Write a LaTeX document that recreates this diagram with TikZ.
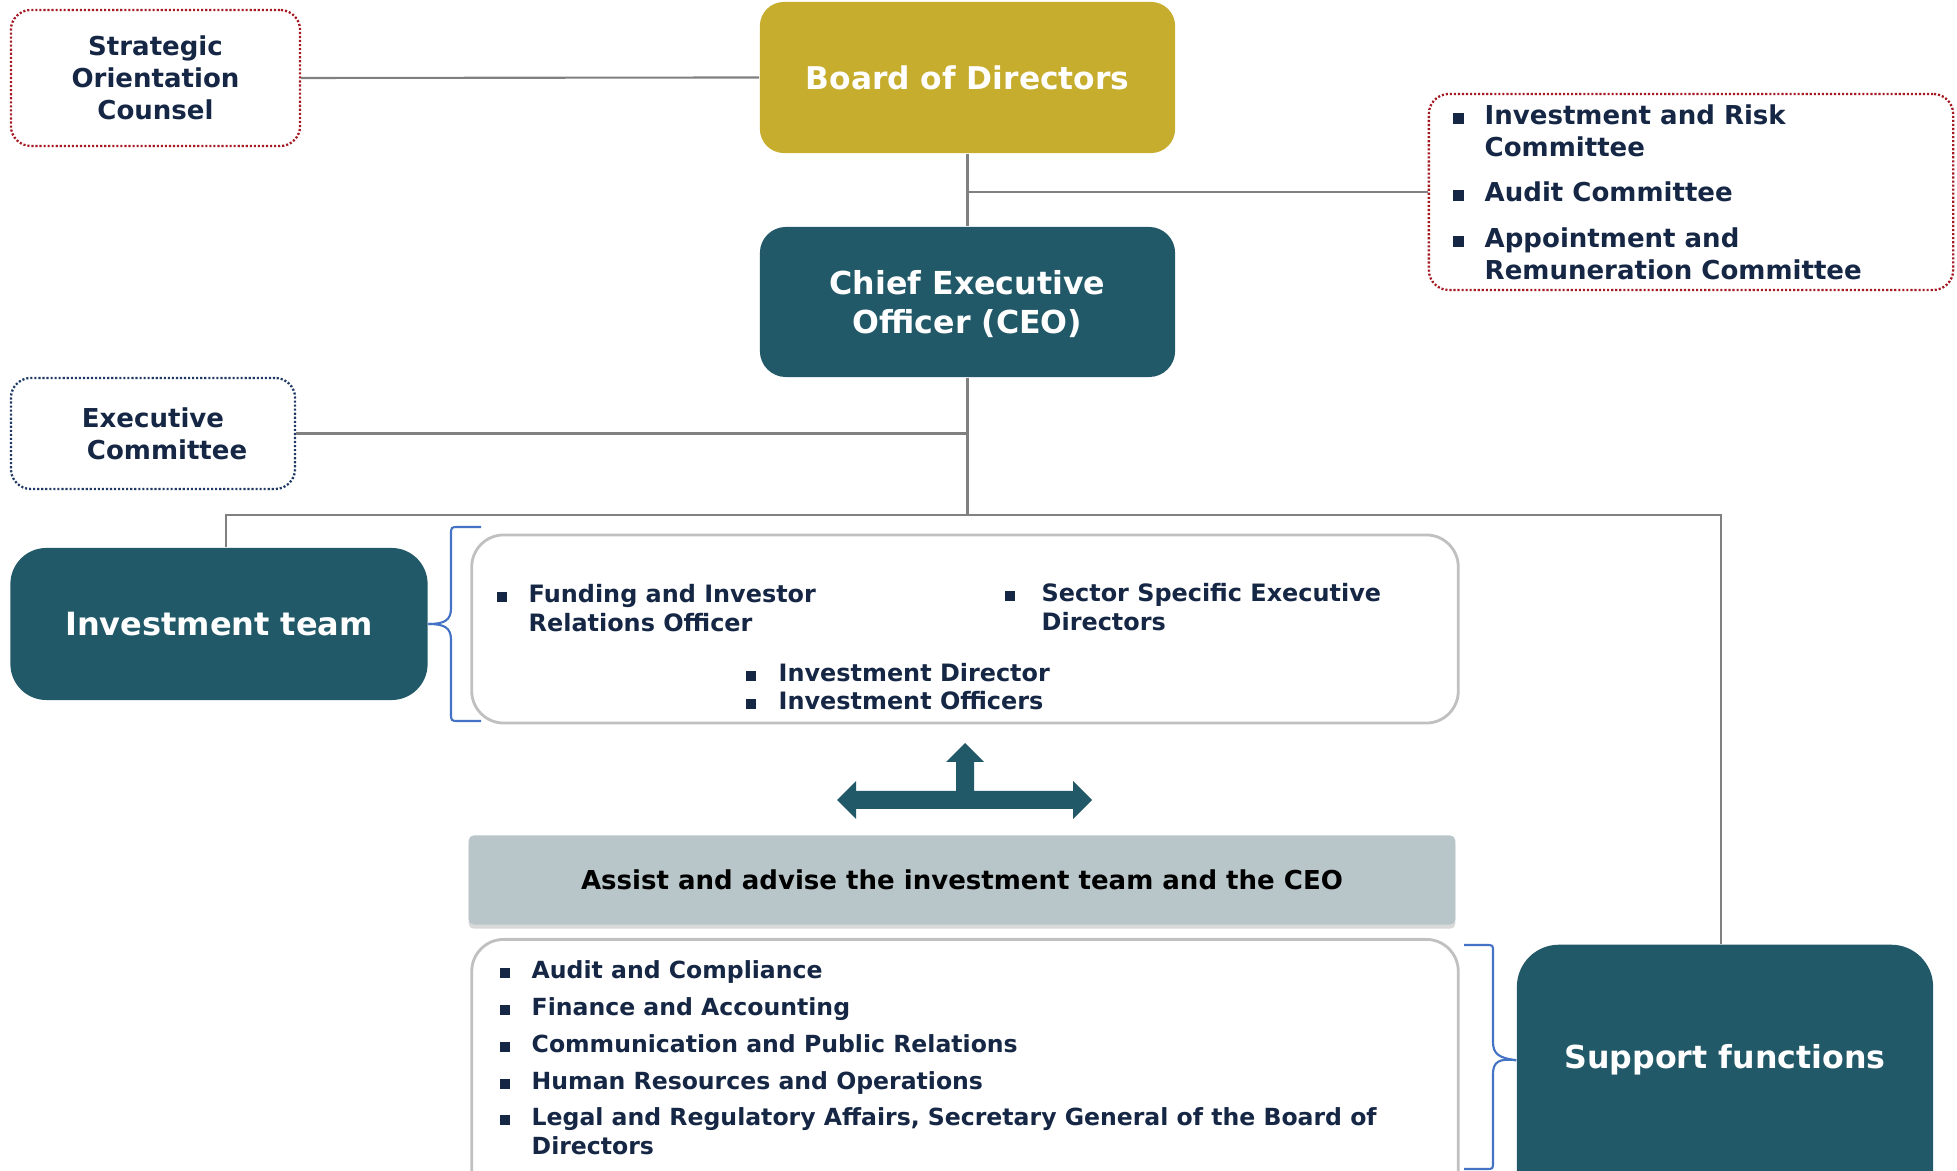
\documentclass[tikz,border=0pt]{standalone}
\usepackage{fontspec}
\setmainfont{DejaVu Sans}
\usetikzlibrary{calc,shadows}
\definecolor{darkteal}{RGB}{34,89,104}
\definecolor{boardgold}{RGB}{198,173,46}
\definecolor{navy}{RGB}{21,39,68}
\definecolor{dotred}{RGB}{165,25,35}
\definecolor{dotblue}{RGB}{31,56,100}
\definecolor{bannergray}{RGB}{184,197,201}
\definecolor{braceblue}{RGB}{68,114,196}
\definecolor{boxgray}{RGB}{192,192,192}
\definecolor{linegray}{RGB}{128,128,128}
\newcommand{\twolines}[1]{\begin{tabular}[t]{@{}l@{}}#1\end{tabular}}

\begin{document}
\begin{tikzpicture}[x=0.01cm, y=-0.01cm,
  goldbox/.style={rectangle, rounded corners=0.24cm, fill=boardgold, text=white, inner sep=0pt, align=center},
  tealbox/.style={rectangle, rounded corners=0.36cm, fill=darkteal, text=white, inner sep=0pt, align=center},
  dotbox/.style={rectangle, rounded corners=0.2cm, line width=0.65pt, dash pattern=on 0.6pt off 0.55pt, text=navy, inner sep=0pt, align=center, font=\fontsize{7.4}{9.1}\selectfont\bfseries},
  listbox/.style={rectangle, rounded corners=0.32cm, draw=boxgray, line width=0.8pt, fill=white, inner sep=0pt},
  itemtxt/.style={anchor=base west, inner sep=0pt, text=navy},
  bulsq/.style={fill=navy},
  conn/.style={draw=linegray, line width=0.6pt},
  curly/.style={draw=braceblue, line width=0.6pt}]
\useasboundingbox (0,0) rectangle (1957,1171);
\clip (0,0) rectangle (1957,1171);

% top level
\node[dotbox, draw=dotred, minimum width=2.89cm, minimum height=1.36cm] (soc) at (155.5,78) {Strategic\\Orientation\\Counsel};
\node[goldbox, minimum width=4.15cm, minimum height=1.51cm, font=\fontsize{8.9}{11}\selectfont\bfseries] (board) at (967.5,77.5) {Board of Directors};
\node[tealbox, rounded corners=0.26cm, minimum width=4.15cm, minimum height=1.5cm] (ceo) at (967.5,302) {};
\node[anchor=base, text=white, inner sep=0pt, font=\fontsize{9}{11}\selectfont\bfseries] (ceot) at (967.5,295)
  {\begin{tabular}[t]{@{}c@{}}Chief Executive\\Officer (CEO)\end{tabular}};
\node[dotbox, draw=dotblue, minimum width=2.84cm, minimum height=1.11cm] (exc) at (153,433.5) {Executive\\\hspace*{8pt}Committee};

% committees
\node[dotbox, draw=dotred, minimum width=5.24cm, minimum height=1.96cm] (cmt) at (1691,192) {};
\begin{scope}[every node/.style={itemtxt, font=\fontsize{7.4}{9.1}\selectfont\bfseries}]
\node (c1) at (1484,125) {\twolines{Investment and Risk\\Committee}};
\node (c2) at (1484,202) {Audit Committee};
\node (c3) at (1484,248) {\twolines{Appointment and\\Remuneration Committee}};
\end{scope}
\fill[bulsq] ($(c1.base west)+(-31,-1)$) rectangle +(11,-11);
\fill[bulsq] ($(c2.base west)+(-31,-1)$) rectangle +(11,-11);
\fill[bulsq] ($(c3.base west)+(-31,-1)$) rectangle +(11,-11);

% connectors
\coordinate (hub) at (967.5,515);
\coordinate (lft) at (226,515);
\coordinate (rgt) at (1721,515);
\draw[conn] (soc.east) -- (board.west);
\draw[conn] (board.south) -- (ceo.north);
\draw[conn] (board.south |- cmt.west) -- (cmt.west);
\draw[conn] (ceo.south) -- (hub);
\draw[conn] (exc.east) -- (exc.east -| hub);

% investment team
\node[tealbox, minimum width=4.17cm, minimum height=1.52cm, font=\fontsize{9.1}{11}\selectfont\bfseries] (invt) at (219,624) {Investment team};
\node[listbox, minimum width=9.86cm, minimum height=1.88cm] (invl) at (965,629) {};
\begin{scope}[every node/.style={itemtxt, font=\fontsize{6.8}{8.2}\selectfont\bfseries}]
\node (i1) at (528,603) {\twolines{Funding and Investor\\Relations Officer}};
\node (i2) at (1041,602) {\twolines{Sector Specific Executive\\Directors}};
\node (i3) at (778,682) {Investment Director};
\node (i4) at (778,710) {Investment Officers};
\end{scope}
\fill[bulsq] ($(i1.base west)+(-31,-1)$) rectangle +(10,-10);
\fill[bulsq] ($(i2.base west)+(-36,-1)$) rectangle +(10,-10);
\fill[bulsq] ($(i3.base west)+(-32,-1)$) rectangle +(10,-10);
\fill[bulsq] ($(i4.base west)+(-32,-1)$) rectangle +(10,-10);
\draw[curly] (invt.east) .. controls (445,624) and (451,620) .. (451,608) -- (451,535)
  .. controls (451,527) .. (459,527) -- (481,527);
\draw[curly] (invt.east) .. controls (445,624) and (451,628) .. (451,640) -- (451,713)
  .. controls (451,721) .. (459,721) -- (481,721);

% arrows between the two groups
\fill[darkteal] (837,800) -- (856,781) -- (856,791) -- (956,791) -- (956,762) -- (946,762)
  -- (965,743) -- (984,762) -- (974,762) -- (974,791) -- (1073,791) -- (1073,781)
  -- (1092,800) -- (1073,819) -- (1073,809) -- (856,809) -- (856,819) -- cycle;

\node[rectangle, rounded corners=0.05cm, fill=bannergray, minimum width=9.86cm, minimum height=0.89cm,
  drop shadow={shadow xshift=0pt, shadow yshift=-1.2pt, opacity=0.3},
  font=\fontsize{7.4}{9}\selectfont\bfseries] (adv) at (962,880) {Assist and advise the investment team and the CEO};

% support functions
\node[listbox, anchor=north, minimum width=9.86cm, minimum height=3cm] (supl) at (965,938) {};
\begin{scope}[every node/.style={itemtxt, font=\fontsize{6.7}{8.2}\selectfont\bfseries}]
\node (s1) at (531,979) {Audit and Compliance};
\node (s2) at (531,1016) {Finance and Accounting};
\node (s3) at (531,1053) {Communication and Public Relations};
\node (s4) at (531,1090) {Human Resources and Operations};
\node (s5) at (531,1126) {\twolines{Legal and Regulatory Affairs, Secretary General of the Board of\\Directors}};
\end{scope}
\fill[bulsq] ($(s1.base west)+(-31,-1)$) rectangle +(10,-10);
\fill[bulsq] ($(s2.base west)+(-31,-1)$) rectangle +(10,-10);
\fill[bulsq] ($(s3.base west)+(-31,-1)$) rectangle +(10,-10);
\fill[bulsq] ($(s4.base west)+(-31,-1)$) rectangle +(10,-10);
\fill[bulsq] ($(s5.base west)+(-31,-1)$) rectangle +(10,-10);

\node[tealbox, rounded corners=0.42cm, anchor=north, minimum width=4.16cm, minimum height=3cm] (supf) at (1725,944) {};
\node[anchor=base, text=white, inner sep=0pt, font=\fontsize{9}{11}\selectfont\bfseries] (supft) at (1725,1069) {Support functions};
\draw[curly] (supf.west |- supft) .. controls (1499,1058) and (1493,1054) .. (1493,1042) -- (1493,952)
  .. controls (1493,945) .. (1486,945) -- (1464,945);
\draw[curly] (supf.west |- supft) .. controls (1499,1058) and (1493,1062) .. (1493,1074) -- (1493,1162)
  .. controls (1493,1169) .. (1486,1169) -- (1464,1169);

\draw[conn] (lft |- invt.north) -- (lft) -- (rgt) -- (rgt |- supf.north);
\end{tikzpicture}
\end{document}
